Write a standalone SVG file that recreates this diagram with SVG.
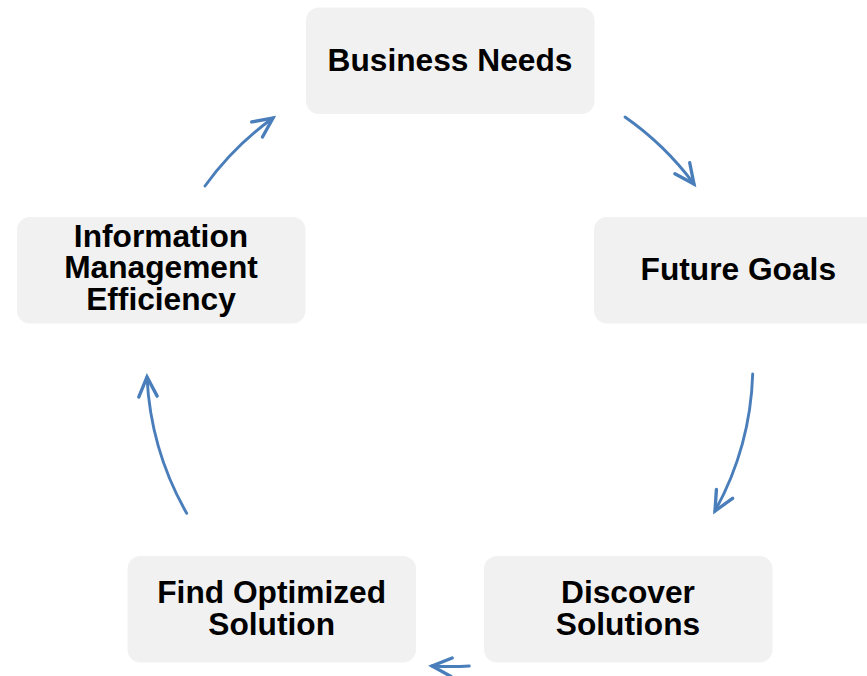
<svg xmlns="http://www.w3.org/2000/svg" width="867" height="676" viewBox="0 0 867 676">
<style>
.box{fill:#f1f1f1;}
.lbl{font-family:"Liberation Sans",Arial,sans-serif;font-weight:bold;font-size:31.7px;fill:#000;text-anchor:middle;}
.arc{fill:none;stroke:#4a7ebb;stroke-width:2.9;stroke-linecap:round;}
</style>
<defs>
<marker id="ah" markerUnits="userSpaceOnUse" markerWidth="30" markerHeight="30" viewBox="-22 -12 26 24" refX="0" refY="0" orient="auto" overflow="visible">
<path d="M-17,-8 L0,0 L-17,8" fill="none" stroke="#4a7ebb" stroke-width="2.9" stroke-linecap="round" stroke-linejoin="miter"/>
</marker>
</defs>
<rect width="867" height="676" fill="#fff"/>
<g id="connectors">
<path class="arc" d="M625,117 A300 300 0 0 1 694,184" marker-end="url(#ah)"/>
<path class="arc" d="M752.7,374 A303 303 0 0 1 715,511" marker-end="url(#ah)"/>
<path class="arc" d="M469.3,666 A305 305 0 0 1 432,666" marker-end="url(#ah)"/>
<path class="arc" d="M186.7,513.3 A305 305 0 0 1 147,377" marker-end="url(#ah)"/>
<path class="arc" d="M205,186 A300 300 0 0 1 273,118" marker-end="url(#ah)"/>
</g>
<g id="node-business-needs">
<rect class="box" x="306" y="7.5" width="288.5" height="106.5" rx="13"/>
<text class="lbl" x="450" y="71">Business Needs</text>
</g>
<g id="node-future-goals">
<rect class="box" x="594" y="217" width="288.5" height="106.5" rx="13"/>
<text class="lbl" x="738.3" y="280">Future Goals</text>
</g>
<g id="node-discover-solutions">
<rect class="box" x="484" y="556" width="288.5" height="106.5" rx="13"/>
<text class="lbl" x="628" y="602.7">Discover</text>
<text class="lbl" x="628" y="635">Solutions</text>
</g>
<g id="node-find-optimized-solution">
<rect class="box" x="127.5" y="556" width="288.5" height="106.5" rx="13"/>
<text class="lbl" x="271.7" y="602.7">Find Optimized</text>
<text class="lbl" x="271.7" y="635">Solution</text>
</g>
<g id="node-information-management-efficiency">
<rect class="box" x="17" y="217" width="288.5" height="106.5" rx="13"/>
<text class="lbl" x="161" y="246.7">Information</text>
<text class="lbl" x="161" y="278.4">Management</text>
<text class="lbl" x="161" y="310">Efficiency</text>
</g>
</svg>
